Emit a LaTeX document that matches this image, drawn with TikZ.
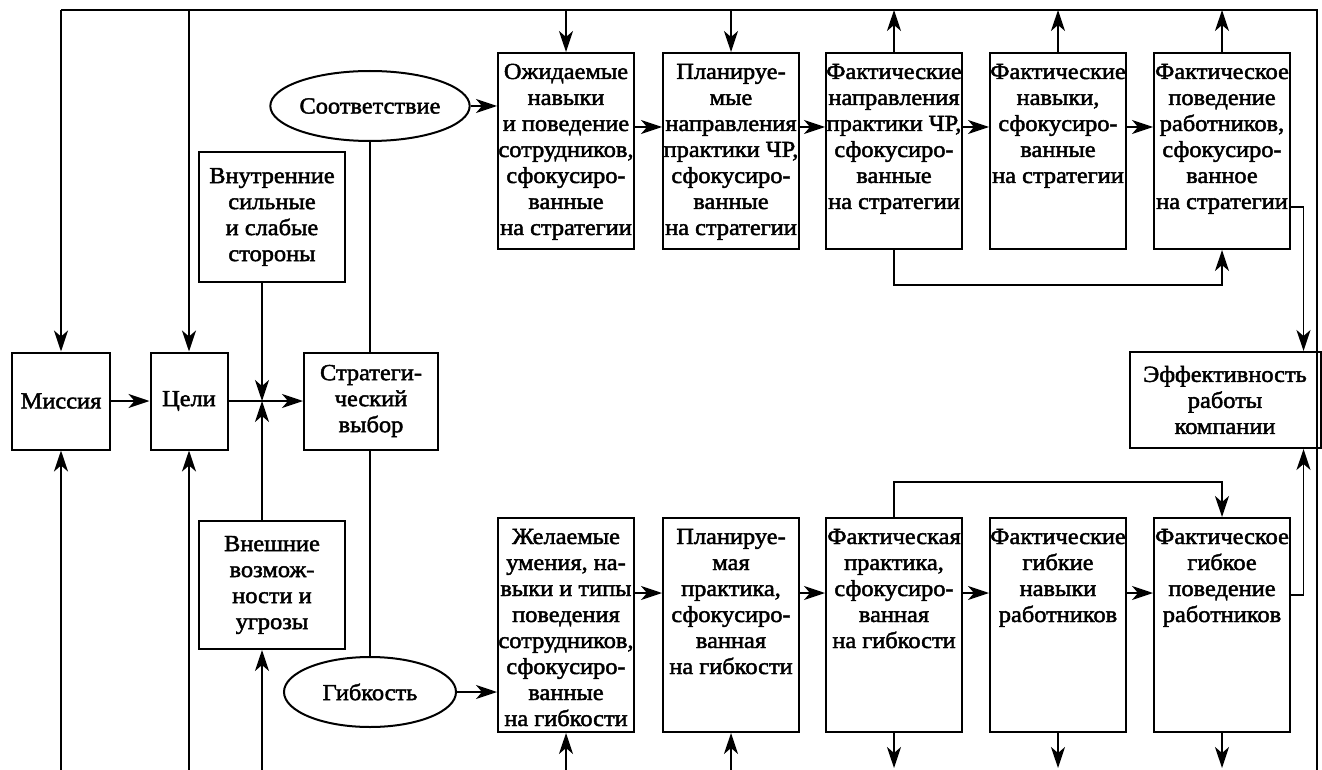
\documentclass[tikz,border=0pt]{standalone}
\usepackage{fontspec}
\setmainfont{Liberation Serif}[FakeBold=2, FakeStretch=1.06]
\usetikzlibrary{arrows.meta,shapes.geometric}
\newcommand{\celltext}[2]{\parbox[t][#1][t]{136pt}{\makebox[136pt]{\begin{tabular}[t]{@{}c@{}}\rule{0pt}{26pt}#2\end{tabular}}}}

\begin{document}
\begin{tikzpicture}[x=1pt,y=-1pt,
    font=\fontsize{23}{26}\selectfont,
    cell/.style={draw, line width=2pt, inner sep=0pt, anchor=north west},
    block/.style={draw, line width=2pt, align=center, inner sep=0pt},
    oval/.style={draw, ellipse, line width=2pt, minimum width=172pt, minimum height=70pt, inner sep=0pt},
    link/.style={line width=1.7pt},
    arr/.style={line width=1.7pt, -{Stealth[length=21pt,width=14pt,inset=6pt]}}]
    \useasboundingbox (0,0) rectangle (1322,770);

    % left part
    \node[block, minimum width=98pt, minimum height=97pt] (mis) at (61,401) {Миссия};
    \node[block, minimum width=77pt, minimum height=97pt] (cel) at (189,401) {Цели};
    \node[block, minimum width=134pt, minimum height=97pt] (strat) at (371,401) {Стратеги-\\ческий\\выбор};
    \node[block, minimum width=146pt, minimum height=129pt] (inner) at (272,217) {Внутренние\\сильные\\и слабые\\стороны};
    \node[block, minimum width=146pt, minimum height=128pt] (outer) at (272,585) {Внешние\\возмож-\\ности и\\угрозы};
    \node[oval] (corr) at (370,106) {Соответствие};
    \node[oval] (flex) at (370,692) {Гибкость};

    % upper row
    \node[cell] (a1) at (497,52) {\celltext{196pt}{Ожидаемые\\навыки\\и поведение\\сотрудников,\\сфокусиро-\\ванные\\на стратегии}};
    \node[cell] (a2) at (662,52) {\celltext{196pt}{Планируе-\\мые\\направления\\практики ЧР,\\сфокусиро-\\ванные\\на стратегии}};
    \node[cell] (a3) at (825,52) {\celltext{196pt}{Фактические\\направления\\практики ЧР,\\сфокусиро-\\ванные\\на стратегии}};
    \node[cell] (a4) at (989,52) {\celltext{196pt}{Фактические\\навыки,\\сфокусиро-\\ванные\\на стратегии}};
    \node[cell] (a5) at (1153,52) {\celltext{196pt}{Фактическое\\поведение\\работников,\\сфокусиро-\\ванное\\на стратегии}};

    % lower row
    \node[cell] (b1) at (497,517) {\celltext{214pt}{Желаемые\\умения, на-\\выки и типы\\поведения\\сотрудников,\\сфокусиро-\\ванные\\на гибкости}};
    \node[cell] (b2) at (662,517) {\celltext{214pt}{Планируе-\\мая\\практика,\\сфокусиро-\\ванная\\на гибкости}};
    \node[cell] (b3) at (825,517) {\celltext{214pt}{Фактическая\\практика,\\сфокусиро-\\ванная\\на гибкости}};
    \node[cell] (b4) at (989,517) {\celltext{214pt}{Фактические\\гибкие\\навыки\\работников}};
    \node[cell] (b5) at (1153,517) {\celltext{214pt}{Фактическое\\гибкое\\поведение\\работников}};

    \node[block, minimum width=191pt, minimum height=96pt] (eff) at (1225,400) {Эффективность\\работы\\компании};

    % outer frame
    \coordinate (tl) at (61,10);
    \coordinate (tr) at (1317,10);
    \coordinate (br) at (1317,770);
    \coordinate (cross) at (262,401);
    \draw[link] (tl) -- (tr) -- (br);

    \foreach \n in {mis,cel,a1,a2} \draw[arr] (\n.north |- tl) -- (\n.north);
    \foreach \n in {a3,a4,a5} \draw[arr] (\n.north) -- (\n.north |- tl);
    \foreach \n in {mis,cel,b1,b2} \draw[arr] (\n.south |- br) -- (\n.south);
    \draw[arr] (cross |- br) -- (outer.south -| cross);
    \foreach \n in {b3,b4,b5} \draw[arr] (\n.south) -- ([yshift=2pt]\n.south |- br);

    % strategy
    \draw[arr] (mis) -- (cel);
    \draw[arr] (cel) -- (strat);
    \draw[arr] (inner.south -| cross) -- (cross);
    \draw[arr] (outer.north -| cross) -- (cross);
    \draw[link] (corr.south) -- (corr.south |- strat.north);
    \draw[link] (flex.north) -- (flex.north |- strat.south);
    \draw[arr] (corr) -- (corr -| a1.west);
    \draw[arr] (flex) -- (flex -| b1.west);

    % chains
    \foreach \s/\t in {a1/a2,a2/a3,a3/a4,a4/a5}
        \draw[arr] ([yshift=-75pt]\s.north east) -- ([yshift=-75pt]\t.north west);
    \foreach \s/\t in {b1/b2,b2/b3,b3/b4,b4/b5}
        \draw[arr] ([yshift=-76pt]\s.north east) -- ([yshift=-76pt]\t.north west);
    \draw[arr] (a3.south) -- ++(0,35) -| (a5.south);
    \draw[arr] (b3.north) -- ++(0,-35) -| (b5.north);

    % results
    \draw[arr] ([yshift=43pt]a5.south east) -| ([xshift=-18pt]eff.north east);
    \draw[arr] ([yshift=-78pt]b5.north east) -| ([xshift=-18pt]eff.south east);
\end{tikzpicture}
\end{document}
